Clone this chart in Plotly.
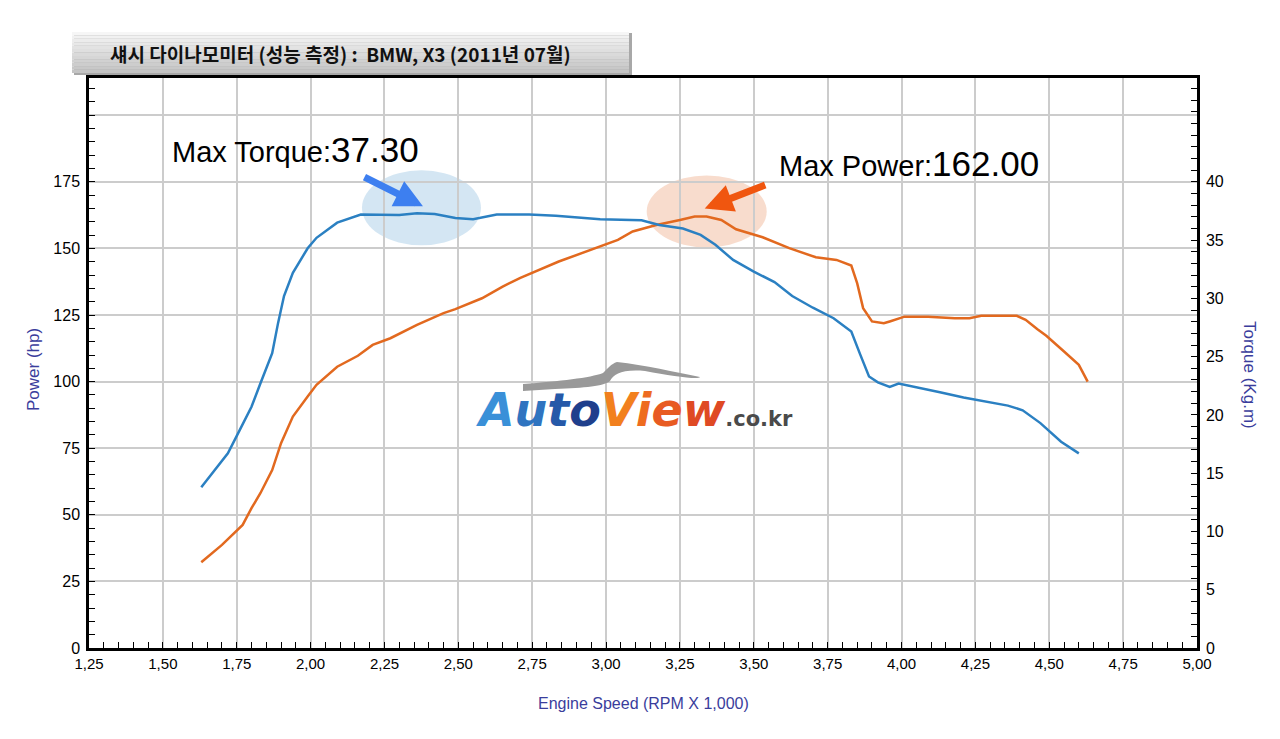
import plotly.graph_objects as go

# Torque curve (Kg.m)
rpm_torque = [1.63, 1.68, 1.72, 1.76, 1.80, 1.83, 1.87, 1.89, 1.91, 1.94, 1.99,
              2.02, 2.09, 2.17, 2.25, 2.30, 2.36, 2.42, 2.49, 2.55, 2.63, 2.71,
              2.74, 2.83, 2.98, 3.12, 3.18, 3.26, 3.32, 3.37, 3.43, 3.50, 3.57,
              3.63, 3.70, 3.77, 3.80, 3.83, 3.86, 3.89, 3.92, 3.96, 3.99, 4.05,
              4.13, 4.21, 4.29, 4.36, 4.41, 4.47, 4.54, 4.60]
torque_kgm = [13.8, 15.4, 16.7, 18.7, 20.7, 22.7, 25.3, 27.9, 30.2, 32.2, 34.3,
              35.2, 36.5, 37.2, 37.2, 37.15, 37.3, 37.25, 36.9, 36.8, 37.2, 37.2,
              37.2, 37.1, 36.8, 36.7, 36.3, 36.0, 35.45, 34.6, 33.3, 32.3, 31.4,
              30.2, 29.2, 28.3, 27.7, 27.15, 25.2, 23.3, 22.8, 22.4, 22.7, 22.35,
              21.95, 21.5, 21.1, 20.8, 20.4, 19.3, 17.7, 16.7]

# Power curve (hp)
rpm_power = [1.63, 1.70, 1.77, 1.80, 1.83, 1.87, 1.90, 1.94, 1.99, 2.02, 2.09,
             2.16, 2.21, 2.27, 2.36, 2.45, 2.49, 2.58, 2.65, 2.71, 2.84, 2.98,
             3.04, 3.09, 3.17, 3.25, 3.30, 3.34, 3.39, 3.44, 3.53, 3.62, 3.71,
             3.78, 3.83, 3.85, 3.87, 3.90, 3.94, 3.96, 4.01, 4.09, 4.18, 4.23,
             4.27, 4.39, 4.42, 4.46, 4.49, 4.55, 4.60, 4.63]
power_hp = [32.2, 38.7, 46.2, 52.5, 58.1, 66.8, 76.9, 86.9, 94.4, 98.8, 105.6,
            109.7, 113.8, 116.3, 121.3, 125.7, 127.2, 131.3, 135.7, 139.0, 145.1, 150.7,
            153.2, 156.4, 158.8, 160.7, 162.0, 162.0, 160.7, 157.2, 154.2, 150.1, 146.7,
            145.7, 143.6, 136.9, 127.6, 122.6, 121.9, 122.6, 124.4, 124.4, 123.8, 123.8,
            124.7, 124.7, 123.2, 119.7, 117.2, 111.3, 106.3, 100.0]

power_ticks = [0, 25, 50, 75, 100, 125, 150, 175, 200]
power_labels = ['0', '25', '50', '75', '100', '125', '150', '175', '']
torque_ticks = [0, 5, 10, 15, 20, 25, 30, 35, 40]

title_text = '섀시 다이나모미터 (성능 측정) :  BMW, X3 (2011년 07월)'

W, H = 1280, 739
L, R, T, B = 89, 83, 78, 91
PW, PH = W - L - R, H - T - B
HP_MAX = 214.0
TQ_MAX = HP_MAX * 40 / 175

def px(x):
    return (x - L) / PW

def py(y):
    return (H - B - y) / PH

blue = '#2b80c2'
orange = '#e2691f'
label_blue = '#3a3d9c'

fig = go.Figure()
fig.add_trace(go.Scatter(x=rpm_power, y=power_hp, mode='lines', name='Power',
                         line=dict(color=orange, width=2.5)))
fig.add_trace(go.Scatter(x=rpm_torque, y=torque_kgm, mode='lines', name='Torque',
                         yaxis='y2', line=dict(color=blue, width=2.5)))

fig.update_layout(
    width=W, height=H,
    margin=dict(l=L, r=R, t=T, b=B),
    paper_bgcolor='white', plot_bgcolor='white',
    showlegend=False,
    separators=',.',
    font=dict(family='Liberation Sans, Arial', color='black'),
    xaxis=dict(range=[1.25, 5.0], tick0=1.25, dtick=0.25, tickformat='.2f',
               showgrid=True, gridcolor='#cccccc', gridwidth=1.5,
               showline=True, linecolor='black', linewidth=2.5, mirror=True,
               ticks='inside', ticklen=6, tickcolor='black', zeroline=False,
               tickfont=dict(size=15),
               minor=dict(dtick=0.05, ticks='inside', ticklen=6, tickcolor='black',
                          showgrid=False)),
    yaxis=dict(range=[0, HP_MAX], tickvals=power_ticks, ticktext=power_labels,
               showgrid=True, gridcolor='#cccccc', gridwidth=1.5,
               showline=True, linecolor='black', linewidth=2.5,
               ticks='inside', ticklen=6, tickcolor='black', zeroline=False,
               tickfont=dict(size=16), ticklabelstandoff=3,
               minor=dict(dtick=5, ticks='inside', ticklen=6, tickcolor='black',
                          showgrid=False)),
    yaxis2=dict(range=[0, TQ_MAX], overlaying='y', side='right',
                tickvals=torque_ticks, showgrid=False,
                showline=True, linecolor='black', linewidth=2.5,
                ticks='inside', ticklen=6, tickcolor='black', zeroline=False,
                tickfont=dict(size=16), ticklabelstandoff=3,
                minor=dict(dtick=1, ticks='inside', ticklen=6, tickcolor='black')),
)

shapes = []
# title banner with a fake vertical gradient
shapes.append(dict(type='rect', xref='paper', yref='paper', x0=px(74), x1=px(632),
                   y0=py(75), y1=py(33), fillcolor='#a8a8a8', line_width=0))
n = 12
top, bot = (246, 246, 246), (196, 196, 196)
for i in range(n):
    c = tuple(int(top[k] + (bot[k] - top[k]) * i / (n - 1)) for k in range(3))
    y0 = 32 + (73 - 32) * i / n
    y1 = 32 + (73 - 32) * (i + 1) / n
    shapes.append(dict(type='rect', xref='paper', yref='paper', x0=px(72), x1=px(629),
                       y0=py(y1), y1=py(y0), fillcolor='rgb(%d,%d,%d)' % c, line_width=0))

# highlight ellipses around the peaks (under the curves, grid faintly showing)
i_tq = torque_kgm.index(max(torque_kgm))
i_pw = power_hp.index(max(power_hp))
shapes.append(dict(type='circle', xref='x', yref='y2', xsizemode='pixel', ysizemode='pixel',
                   xanchor=rpm_torque[i_tq], yanchor=torque_kgm[i_tq],
                   x0=-55, x1=64, y0=-32, y1=43, layer='below',
                   fillcolor='rgba(183,213,235,0.6)', line_width=0))
shapes.append(dict(type='circle', xref='x', yref='y', xsizemode='pixel', ysizemode='pixel',
                   xanchor=rpm_power[i_pw], yanchor=power_hp[i_pw],
                   x0=-48, x1=72, y0=-31, y1=41, layer='below',
                   fillcolor='rgba(243,197,172,0.6)', line_width=0))

# grey swoosh of the logo
sw = [(523, 384), (560, 381), (590, 378), (603, 373), (608, 368), (611, 364), (617, 362),
      (645, 365), (675, 372), (700, 377), (699, 380), (672, 376), (645, 371), (622, 369),
      (614, 374), (610, 381), (604, 386), (585, 388), (555, 389), (523, 391)]
path = 'M %.4f,%.4f ' % (px(sw[0][0]), py(sw[0][1]))
for k in range(1, len(sw), 3):
    pts = sw[k:k + 3]
    if len(pts) == 3:
        path += 'C ' + ' '.join('%.4f,%.4f' % (px(a), py(b)) for a, b in pts) + ' '
    else:
        path += ' '.join('L %.4f,%.4f' % (px(a), py(b)) for a, b in pts) + ' '
path += 'Z'
shapes.append(dict(type='path', xref='paper', yref='paper', path=path,
                   fillcolor='#999999', line_width=0))
fig.update_layout(shapes=shapes)

ann = []
ann.append(dict(xref='paper', yref='paper', x=px(108), y=py(53), xanchor='left', yanchor='middle',
                text=title_text, showarrow=False,
                font=dict(family='Noto Sans CJK KR', size=19, color='#111111', weight=700)))
ann.append(dict(xref='paper', yref='paper', x=0.5, y=py(703), xanchor='center', yanchor='middle',
                text='Engine Speed (RPM X 1,000)', showarrow=False,
                font=dict(size=16, color=label_blue)))
ann.append(dict(xref='paper', yref='paper', x=px(33), y=py(370), xanchor='center', yanchor='middle',
                text='Power (hp)', textangle=-90, showarrow=False,
                font=dict(size=17, color=label_blue)))
ann.append(dict(xref='paper', yref='paper', x=px(1250), y=py(375), xanchor='center', yanchor='middle',
                text='Torque (Kg.m)', textangle=90, showarrow=False,
                font=dict(size=17, color=label_blue)))

# peak callouts
ann.append(dict(xref='paper', yref='paper', x=px(170), y=py(150), xanchor='left', yanchor='middle',
                text="Max Torque:<span style='font-size:35px'>%.2f</span>" % max(torque_kgm),
                showarrow=False, font=dict(size=29, color='black')))
ann.append(dict(xref='paper', yref='paper', x=px(777), y=py(163), xanchor='left', yanchor='middle',
                text="Max Power:<span style='font-size:35px'>%.2f</span>" % max(power_hp),
                showarrow=False, font=dict(size=29, color='black')))
ann.append(dict(xref='x', yref='y2', x=rpm_torque[i_tq], y=torque_kgm[i_tq], text='',
                xshift=6, yshift=7, showarrow=True, ax=-60, ay=-30,
                arrowhead=2, arrowsize=0.8, arrowwidth=7, arrowcolor='#3d7ff0', standoff=0))
ann.append(dict(xref='x', yref='y', x=rpm_power[i_pw], y=power_hp[i_pw], text='',
                xshift=10, yshift=8, showarrow=True, ax=62, ay=-24,
                arrowhead=2, arrowsize=0.8, arrowwidth=7, arrowcolor='#f0560f', standoff=0))

# AutoView watermark
logo = ("<span style='color:#3a90d8'>A</span><span style='color:#2f74c0'>u</span>"
        "<span style='color:#2659a8'>t</span><span style='color:#1f3f8c'>o</span>"
        "<span style='color:#f2801e'>V</span><span style='color:#ee6c20'>i</span>"
        "<span style='color:#e85b22'>e</span><span style='color:#df4a24'>w</span>"
        "<span style='font-size:21px;font-style:normal;color:#4a4a4a'>.co.kr</span>")
ann.append(dict(xref='paper', yref='paper', x=px(634), y=py(410), xanchor='center', yanchor='middle',
                text=logo, showarrow=False,
                font=dict(family='DejaVu Sans', size=46, weight='bold', style='italic')))

fig.update_layout(annotations=ann)

fig.write_html('out.html', config={'displayModeBar': False},
               post_script="document.body.style.margin='0';")
